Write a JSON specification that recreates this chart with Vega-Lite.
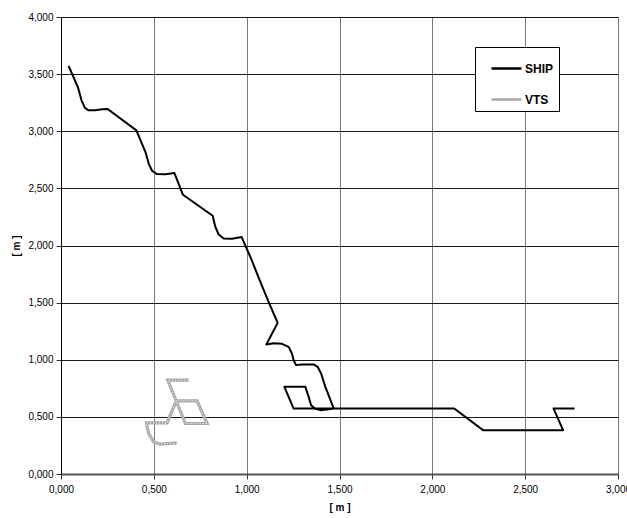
{
  "$schema": "https://vega.github.io/schema/vega-lite/v6.json",
  "width": 557,
  "height": 457,
  "autosize": "none",
  "padding": {"left": 61, "top": 17, "right": 9, "bottom": 44},
  "background": "white",
  "config": {
    "view": {"stroke": null},
    "font": "Liberation Sans",
    "axis": {
      "labelFont": "Liberation Sans",
      "titleFont": "Liberation Sans",
      "labelFontSize": 10,
      "titleFontSize": 10,
      "titleFontWeight": "bold",
      "labelColor": "#000",
      "titleColor": "#000",
      "tickColor": "#333",
      "tickSize": 5,
      "labelFlush": false,
      "labelOverlap": false,
      "grid": true,
      "gridOpacity": 1
    }
  },
  "data": {
    "values": [
      {"series": "SHIP", "o": 1, "x": 0.041, "y": 3.571},
      {"series": "SHIP", "o": 2, "x": 0.092, "y": 3.381},
      {"series": "SHIP", "o": 3, "x": 0.110, "y": 3.273},
      {"series": "SHIP", "o": 4, "x": 0.128, "y": 3.206},
      {"series": "SHIP", "o": 5, "x": 0.149, "y": 3.183},
      {"series": "SHIP", "o": 6, "x": 0.185, "y": 3.183},
      {"series": "SHIP", "o": 7, "x": 0.221, "y": 3.192},
      {"series": "SHIP", "o": 8, "x": 0.251, "y": 3.195},
      {"series": "SHIP", "o": 9, "x": 0.406, "y": 3.008},
      {"series": "SHIP", "o": 10, "x": 0.455, "y": 2.818},
      {"series": "SHIP", "o": 11, "x": 0.472, "y": 2.719},
      {"series": "SHIP", "o": 12, "x": 0.490, "y": 2.654},
      {"series": "SHIP", "o": 13, "x": 0.517, "y": 2.625},
      {"series": "SHIP", "o": 14, "x": 0.562, "y": 2.623},
      {"series": "SHIP", "o": 15, "x": 0.611, "y": 2.634},
      {"series": "SHIP", "o": 16, "x": 0.657, "y": 2.444},
      {"series": "SHIP", "o": 17, "x": 0.817, "y": 2.260},
      {"series": "SHIP", "o": 18, "x": 0.831, "y": 2.164},
      {"series": "SHIP", "o": 19, "x": 0.849, "y": 2.097},
      {"series": "SHIP", "o": 20, "x": 0.876, "y": 2.062},
      {"series": "SHIP", "o": 21, "x": 0.921, "y": 2.059},
      {"series": "SHIP", "o": 22, "x": 0.973, "y": 2.074},
      {"series": "SHIP", "o": 23, "x": 1.024, "y": 1.884},
      {"series": "SHIP", "o": 24, "x": 1.070, "y": 1.697},
      {"series": "SHIP", "o": 25, "x": 1.118, "y": 1.507},
      {"series": "SHIP", "o": 26, "x": 1.167, "y": 1.323},
      {"series": "SHIP", "o": 27, "x": 1.106, "y": 1.134},
      {"series": "SHIP", "o": 28, "x": 1.145, "y": 1.145},
      {"series": "SHIP", "o": 29, "x": 1.190, "y": 1.139},
      {"series": "SHIP", "o": 30, "x": 1.226, "y": 1.113},
      {"series": "SHIP", "o": 31, "x": 1.244, "y": 1.055},
      {"series": "SHIP", "o": 32, "x": 1.253, "y": 0.996},
      {"series": "SHIP", "o": 33, "x": 1.266, "y": 0.953},
      {"series": "SHIP", "o": 34, "x": 1.298, "y": 0.959},
      {"series": "SHIP", "o": 35, "x": 1.361, "y": 0.959},
      {"series": "SHIP", "o": 36, "x": 1.382, "y": 0.938},
      {"series": "SHIP", "o": 37, "x": 1.401, "y": 0.880},
      {"series": "SHIP", "o": 38, "x": 1.415, "y": 0.807},
      {"series": "SHIP", "o": 39, "x": 1.424, "y": 0.763},
      {"series": "SHIP", "o": 40, "x": 1.469, "y": 0.573},
      {"series": "SHIP", "o": 41, "x": 1.253, "y": 0.573},
      {"series": "SHIP", "o": 42, "x": 1.203, "y": 0.763},
      {"series": "SHIP", "o": 43, "x": 1.316, "y": 0.763},
      {"series": "SHIP", "o": 44, "x": 1.334, "y": 0.675},
      {"series": "SHIP", "o": 45, "x": 1.347, "y": 0.602},
      {"series": "SHIP", "o": 46, "x": 1.370, "y": 0.570},
      {"series": "SHIP", "o": 47, "x": 1.397, "y": 0.559},
      {"series": "SHIP", "o": 48, "x": 1.433, "y": 0.565},
      {"series": "SHIP", "o": 49, "x": 1.469, "y": 0.573},
      {"series": "SHIP", "o": 50, "x": 1.576, "y": 0.573},
      {"series": "SHIP", "o": 51, "x": 1.684, "y": 0.573},
      {"series": "SHIP", "o": 52, "x": 1.792, "y": 0.573},
      {"series": "SHIP", "o": 53, "x": 1.899, "y": 0.573},
      {"series": "SHIP", "o": 54, "x": 2.016, "y": 0.573},
      {"series": "SHIP", "o": 55, "x": 2.118, "y": 0.573},
      {"series": "SHIP", "o": 56, "x": 2.273, "y": 0.384},
      {"series": "SHIP", "o": 57, "x": 2.384, "y": 0.384},
      {"series": "SHIP", "o": 58, "x": 2.492, "y": 0.384},
      {"series": "SHIP", "o": 59, "x": 2.599, "y": 0.384},
      {"series": "SHIP", "o": 60, "x": 2.704, "y": 0.384},
      {"series": "SHIP", "o": 61, "x": 2.653, "y": 0.573},
      {"series": "SHIP", "o": 62, "x": 2.766, "y": 0.573},
      {"series": "VTS", "o": 1, "x": 0.625, "y": 0.272},
      {"series": "VTS", "o": 2, "x": 0.580, "y": 0.267},
      {"series": "VTS", "o": 3, "x": 0.535, "y": 0.261},
      {"series": "VTS", "o": 4, "x": 0.499, "y": 0.281},
      {"series": "VTS", "o": 5, "x": 0.472, "y": 0.355},
      {"series": "VTS", "o": 6, "x": 0.460, "y": 0.447},
      {"series": "VTS", "o": 7, "x": 0.571, "y": 0.447},
      {"series": "VTS", "o": 8, "x": 0.621, "y": 0.640},
      {"series": "VTS", "o": 9, "x": 0.733, "y": 0.640},
      {"series": "VTS", "o": 10, "x": 0.787, "y": 0.442},
      {"series": "VTS", "o": 11, "x": 0.670, "y": 0.442},
      {"series": "VTS", "o": 12, "x": 0.575, "y": 0.821},
      {"series": "VTS", "o": 13, "x": 0.688, "y": 0.821}
    ]
  },
  "encoding": {
    "x": {
      "field": "x", "type": "quantitative",
      "scale": {"domain": [0, 3], "nice": false, "zero": false},
      "axis": {
        "title": "[ m ]",
        "values": [0, 0.5, 1, 1.5, 2, 2.5, 3],
        "labelExpr": "replace(format(datum.value, '.3f'), '.', ',')",
        "gridColor": "#7a7a7a",
        "domainColor": "#555",
        "domainWidth": 2,
        "labelPadding": 5,
        "titlePadding": 8
      }
    },
    "y": {
      "field": "y", "type": "quantitative",
      "scale": {"domain": [0, 4], "nice": false, "zero": false},
      "axis": {
        "title": "[ m ]",
        "values": [0, 0.5, 1, 1.5, 2, 2.5, 3, 3.5, 4],
        "labelExpr": "replace(format(datum.value, '.3f'), '.', ',')",
        "gridColor": "#1a1a1a",
        "domainColor": "#000",
        "domainWidth": 1,
        "labelPadding": 3,
        "titlePadding": 6
      }
    },
    "order": {"field": "o", "type": "quantitative"}
  },
  "layer": [
    {
      "transform": [{"filter": "datum.series === 'VTS'"}],
      "mark": {"type": "line", "strokeWidth": 3.2, "strokeJoin": "miter"},
      "encoding": {
        "color": {
          "field": "series", "type": "nominal",
          "scale": {"domain": ["SHIP", "VTS"], "range": ["#000000", "#a8a8a8"]},
          "legend": {
            "title": null,
            "orient": "none",
            "legendX": 414,
            "legendY": 30,
            "fillColor": "#ffffff",
            "strokeColor": "#000000",
            "padding": 5,
            "symbolOffset": 10,
            "symbolType": "stroke",
            "symbolSize": 900,
            "symbolStrokeWidth": 2.5,
            "labelFont": "Liberation Sans",
            "labelFontSize": 12,
            "labelFontWeight": "bold",
            "labelColor": "#000",
            "labelOffset": 2,
            "rowPadding": 8
          }
        }
      }
    },
    {
      "transform": [{"filter": "datum.series === 'VTS'"}],
      "mark": {"type": "line", "strokeWidth": 1, "color": "#ffffff", "strokeDash": [1, 2], "strokeJoin": "miter"},
      "encoding": {}
    },
    {
      "transform": [{"filter": "datum.series === 'SHIP'"}],
      "mark": {"type": "line", "strokeWidth": 2, "strokeJoin": "round"},
      "encoding": {
        "color": {"field": "series", "type": "nominal"}
      }
    }
  ]
}
